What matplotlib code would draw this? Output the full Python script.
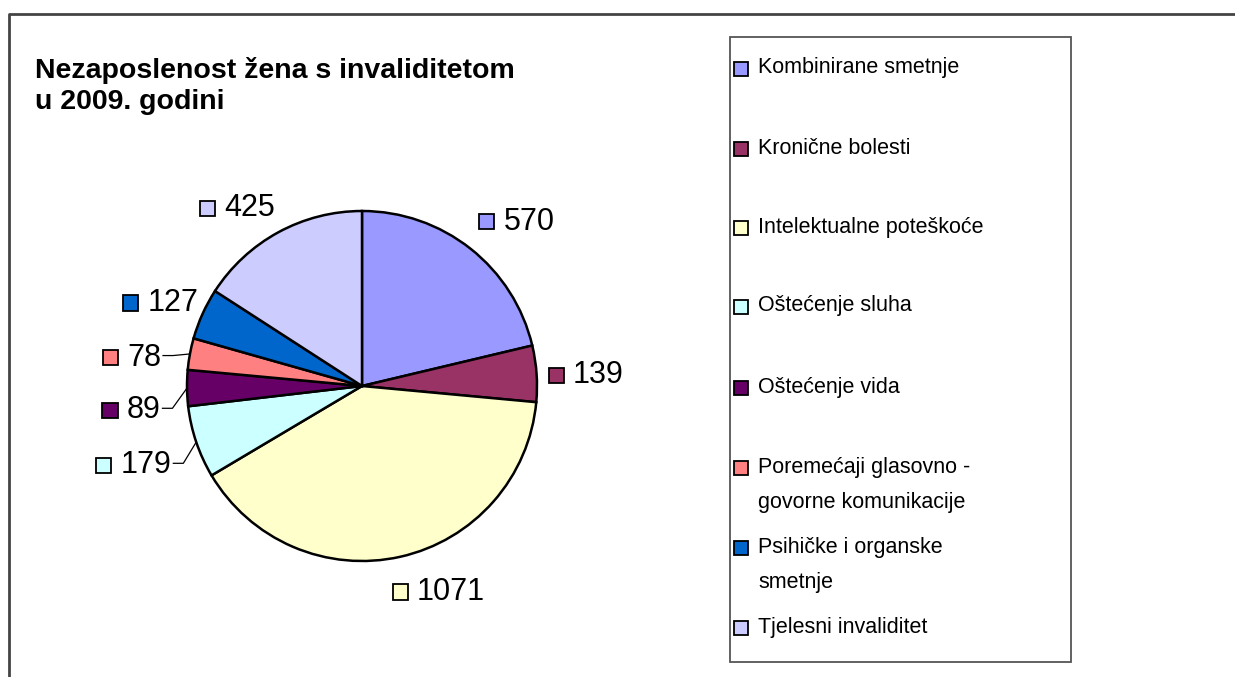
import numpy as np
import matplotlib
matplotlib.use("Agg")
import matplotlib.pyplot as plt
from matplotlib.patches import Rectangle
from matplotlib.offsetbox import HPacker, DrawingArea, TextArea, AnnotationBbox

plt.rcParams['font.family'] = ['Liberation Sans', 'DejaVu Sans']

# data
categories = ['Kombinirane smetnje', 'Kronične bolesti', 'Intelektualne poteškoće',
              'Oštećenje sluha', 'Oštećenje vida',
              'Poremećaji glasovno -\ngovorne komunikacije',
              'Psihičke i organske\nsmetnje', 'Tjelesni invaliditet']
values = [570, 139, 1071, 179, 89, 78, 127, 425]
colors = ['#9999FF', '#993366', '#FFFFCC', '#CCFFFF', '#660066', '#FF8080', '#0066CC', '#CCCCFF']
title = 'Nezaposlenost žena s invaliditetom\nu 2009. godini'

# label layout (radius in pie radii, angle nudge in degrees, leader line or not)
lab_r = [1.15, 1.065, 1.19, 1.18, 1.16, 1.16, 1.05, 1.13]
lab_da = [3.0, -0.7, -4.4, 3.9, 6.2, 2.5, -2.5, -2.5]
leader = [False, False, False, True, True, True, False, False]

W, H = 1235, 677
fig = plt.figure(figsize=(W / 100, H / 100), dpi=100)
ax = fig.add_axes([0, 0, 1, 1])

cx, cy, R = 362, H - 386, 175
wedges, _ = ax.pie(values, colors=colors, startangle=90, counterclock=False,
                   center=(cx, cy), radius=R,
                   wedgeprops=dict(edgecolor='black', linewidth=1.8))
ax.set_xlim(0, W)
ax.set_ylim(0, H)
ax.set_aspect('auto')
ax.axis('off')

# outer chart frame (only top and left visible)
ax.plot([8.5, 8.5, W], [0, H - 13.5, H - 13.5], color='#444444', lw=2, solid_capstyle='butt')

# data labels
for w, v, c, rr, da, ld in zip(wedges, values, colors, lab_r, lab_da, leader):
    mid = np.deg2rad((w.theta1 + w.theta2) / 2)
    ang = mid + np.deg2rad(da)
    x = cx + rr * R * np.cos(ang)
    y = cy + rr * R * np.sin(ang)
    da_sq = DrawingArea(12, 12)
    da_sq.add_artist(Rectangle((0.5, 0.5), 11, 11, facecolor=c, edgecolor='black', lw=1.3))
    txt = TextArea(str(v), textprops=dict(fontsize=22, color='black'))
    box = HPacker(children=[da_sq, txt], align='center', pad=0, sep=6)
    align = (0, 0.5) if np.cos(ang) > 0 else (1, 0.5)
    ab = AnnotationBbox(box, (x, y), box_alignment=align, frameon=False, pad=0)
    ax.add_artist(ab)
    if ld:
        ex = cx + R * np.cos(mid)
        ey = cy + R * np.sin(mid)
        ax.plot([x + 2, x + 12, ex], [y + 2, y + 2, ey], color='black', lw=0.9)

# title
ax.text(35, H - 57, title, fontsize=20.5, fontweight='bold', ha='left', va='top',
        linespacing=1.25)

# legend box
ax.add_patch(Rectangle((729.5, H - 662), 341.5, 625, facecolor='white',
                       edgecolor='#555555', lw=1.3))
leg_y = [68, 148, 227, 306, 387, 467, 547, 627]
for lab, c, ly in zip(categories, colors, leg_y):
    ax.add_patch(Rectangle((733.5, H - ly - 7.5), 14, 14, facecolor=c, edgecolor='black', lw=1.3))
    if '\n' in lab:
        ax.text(758, H - ly + 10, lab, fontsize=15.5, ha='left', va='top', linespacing=1.9)
    else:
        ax.text(758, H - ly, lab, fontsize=15.5, ha='left', va='center')

fig.savefig('out.png', dpi=100)
